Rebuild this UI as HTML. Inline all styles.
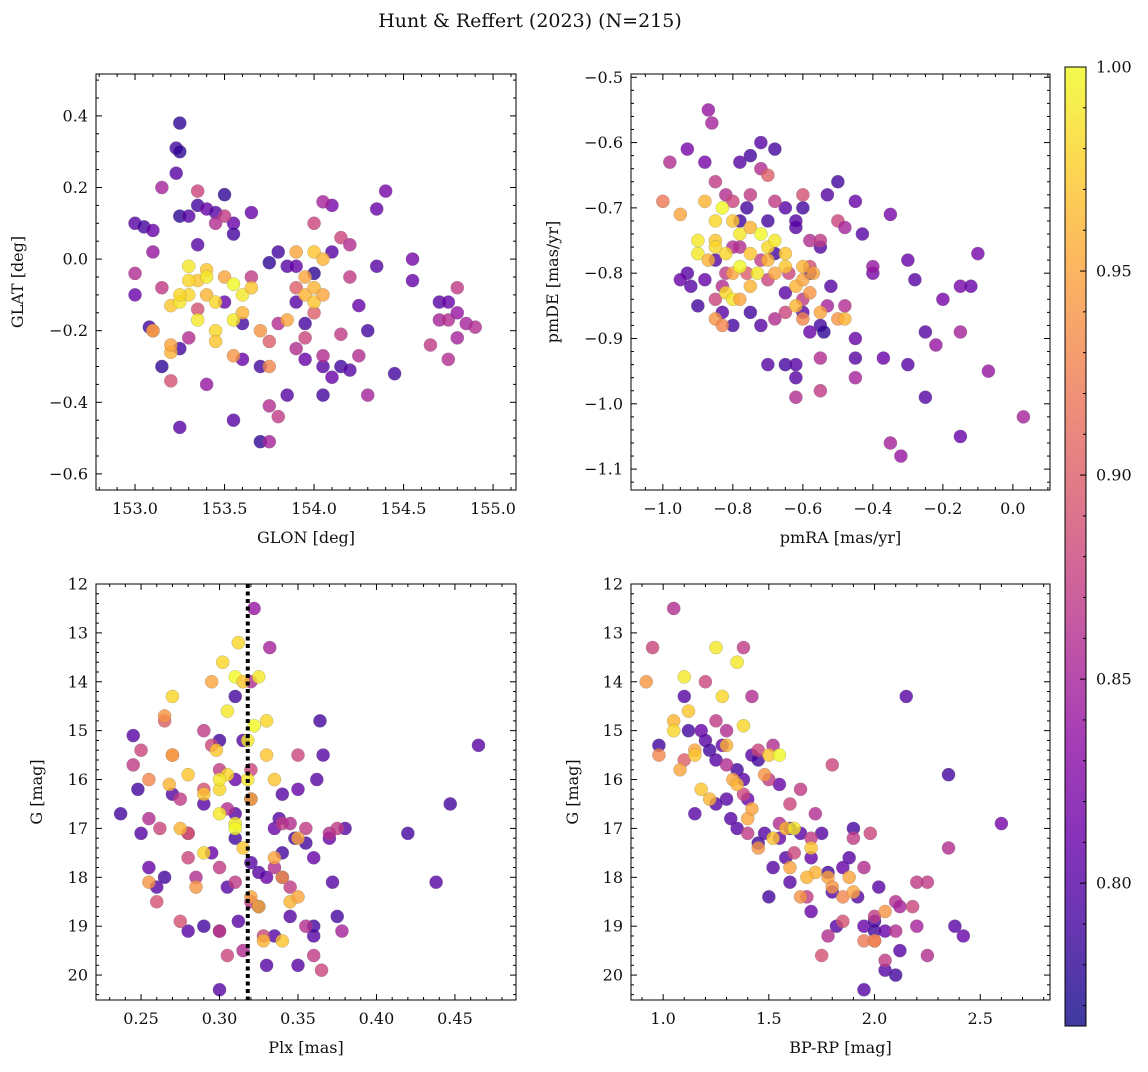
<!DOCTYPE html>
<html><head><meta charset="utf-8"><style>
html,body{margin:0;padding:0;background:#fff}
svg text{font-family:"DejaVu Serif","Liberation Serif",serif;fill:#111}
</style></head><body>
<svg id="fig" width="1148" height="1067" xmlns="http://www.w3.org/2000/svg">
<text x="530" y="27" font-size="19" text-anchor="middle">Hunt &amp; Reffert (2023) (N=215)</text>
</svg>
<script>
// Panel 1 data: GLON vs GLAT
const glon=[153.25,153.23,153.25,153.23,153.0,153.05,153.1,153.25,153.3,153.35,153.4,153.45,153.5,153.55,153.55,153.35,153.0,153.08,153.15,153.25,153.25,153.55,153.7,153.6,153.8,153.85,153.75,153.65,153.9,153.95,153.95,154.0,154.05,154.05,154.1,154.1,154.15,154.2,154.25,154.3,154.35,154.35,154.4,154.45,154.55,154.55,154.7,154.75,153.7,153.85,153.9,154.1,153.6,153.5,
153.15,153.1,153.0,153.15,153.1,153.2,153.4,153.35,153.45,153.5,153.75,153.8,153.75,153.75,153.9,154.0,154.05,154.15,154.2,154.2,154.25,154.15,154.3,154.05,154.65,154.7,154.75,154.8,154.8,154.75,154.85,154.9,154.8,153.95,153.8,153.65,153.9,153.3,153.35,154.0,
153.1,153.2,153.25,153.3,153.35,153.3,153.4,153.45,153.5,153.55,153.6,153.65,153.45,153.55,153.6,153.2,153.2,153.35,153.45,153.55,153.75,153.85,153.9,153.95,154.0,154.0,154.05,154.0,154.05,153.95,153.7,153.3,153.4,153.4,153.25];
const glat=[0.38,0.31,0.30,0.24,0.10,0.09,0.08,0.12,0.12,0.15,0.14,0.13,0.18,0.10,0.07,0.04,-0.10,-0.19,-0.30,-0.47,-0.25,-0.45,-0.51,-0.28,0.02,-0.02,-0.01,0.13,-0.12,-0.18,-0.28,-0.04,-0.30,-0.38,-0.33,0.15,-0.30,-0.31,-0.13,-0.20,-0.02,0.14,0.19,-0.32,-0.06,0.0,-0.12,-0.12,-0.30,-0.38,-0.02,0.02,-0.18,-0.12,
0.20,0.02,-0.04,-0.08,-0.20,-0.34,-0.35,0.19,0.10,0.12,-0.41,-0.44,-0.51,-0.23,-0.25,0.10,0.16,0.06,0.04,-0.05,-0.27,-0.21,-0.38,-0.27,-0.24,-0.17,-0.17,-0.15,-0.22,-0.28,-0.18,-0.19,-0.08,-0.22,-0.18,-0.05,-0.08,-0.22,-0.14,-0.15,
-0.20,-0.13,-0.12,-0.10,-0.06,-0.02,-0.10,-0.12,-0.05,-0.07,-0.10,-0.08,-0.20,-0.17,-0.15,-0.26,-0.24,-0.17,-0.23,-0.27,-0.30,-0.17,0.02,-0.10,-0.12,-0.08,-0.10,0.02,0.0,-0.05,-0.20,-0.06,-0.03,-0.05,-0.10];
const prob1=[0.78,0.79,0.78,0.8,0.8,0.79,0.81,0.78,0.8,0.79,0.81,0.8,0.78,0.81,0.79,0.8,0.81,0.79,0.78,0.8,0.79,0.8,0.78,0.81,0.79,0.8,0.78,0.81,0.8,0.79,0.81,0.78,0.8,0.79,0.81,0.82,0.79,0.8,0.81,0.79,0.8,0.81,0.82,0.79,0.81,0.82,0.8,0.81,0.79,0.8,0.81,0.8,0.79,0.81,
0.85,0.84,0.86,0.87,0.88,0.89,0.84,0.88,0.86,0.87,0.86,0.87,0.85,0.9,0.86,0.88,0.85,0.88,0.86,0.87,0.86,0.87,0.85,0.86,0.87,0.85,0.86,0.84,0.85,0.86,0.85,0.86,0.87,0.88,0.86,0.87,0.9,0.86,0.89,0.9,
0.95,0.97,0.99,0.98,0.97,0.99,0.96,0.98,0.95,1.0,0.99,0.97,0.98,0.99,0.96,0.96,0.95,0.99,0.97,0.94,0.93,0.95,0.95,0.96,0.97,0.96,0.95,0.97,0.96,0.95,0.94,0.98,0.97,0.99,0.98];
// Panel 2 data: pmRA vs pmDE
const pmra=[-0.87,-0.93,-0.88,-0.75,-0.72,-0.68,-0.78,-0.5,-0.53,-0.45,-0.35,-0.43,-0.6,-0.65,-0.7,-0.62,-0.93,-0.95,-0.9,-0.83,-0.8,-0.72,-0.75,-0.6,-0.55,-0.54,-0.52,-0.45,-0.45,-0.37,-0.4,-0.3,-0.28,-0.25,-0.25,-0.15,-0.12,-0.1,-0.15,-0.2,-0.7,-0.65,-0.62,-0.62,-0.58,-0.65,-0.58,-0.85,-0.88,-0.92,-0.78,-0.76,-0.55,-0.68,-0.3,-0.62,
-0.98,-0.86,-0.85,-0.82,-0.8,-0.75,-0.72,-0.7,-0.68,-0.6,-0.58,-0.5,-0.48,-0.35,-0.32,-0.07,0.03,-0.45,-0.55,-0.55,-0.62,-0.4,-0.15,-0.22,-0.48,-0.53,-0.55,-0.7,-0.78,-0.72,-0.65,-0.68,-0.82,-0.83,-0.85,-0.58,-0.6,-0.64,-0.8,-0.76,
-1.0,-0.95,-0.88,-0.85,-0.83,-0.8,-0.78,-0.75,-0.72,-0.7,-0.85,-0.9,-0.87,-0.82,-0.8,-0.78,-0.75,-0.73,-0.7,-0.68,-0.65,-0.62,-0.6,-0.58,-0.62,-0.6,-0.55,-0.5,-0.48,-0.82,-0.8,-0.78,-0.85,-0.83,-0.65,-0.68,-0.6,-0.57,-0.85,-0.9,-0.75];
const pmde=[-0.55,-0.61,-0.63,-0.62,-0.60,-0.61,-0.63,-0.66,-0.68,-0.69,-0.71,-0.74,-0.70,-0.70,-0.72,-0.73,-0.80,-0.81,-0.85,-0.86,-0.88,-0.88,-0.86,-0.86,-0.88,-0.89,-0.82,-0.90,-0.93,-0.93,-0.80,-0.78,-0.81,-0.89,-0.99,-0.82,-0.82,-0.77,-1.05,-0.84,-0.94,-0.94,-0.94,-0.96,-0.89,-0.83,-0.80,-0.78,-0.81,-0.82,-0.72,-0.70,-0.76,-0.77,-0.94,-0.72,
-0.63,-0.57,-0.66,-0.68,-0.69,-0.68,-0.64,-0.65,-0.69,-0.68,-0.75,-0.72,-0.73,-1.06,-1.08,-0.95,-1.02,-0.96,-0.93,-0.98,-0.99,-0.79,-0.89,-0.91,-0.85,-0.85,-0.75,-0.81,-0.76,-0.78,-0.86,-0.87,-0.80,-0.82,-0.84,-0.79,-0.84,-0.80,-0.76,-0.80,
-0.69,-0.71,-0.69,-0.72,-0.70,-0.72,-0.74,-0.73,-0.74,-0.76,-0.75,-0.77,-0.78,-0.77,-0.80,-0.79,-0.77,-0.80,-0.78,-0.80,-0.79,-0.82,-0.81,-0.83,-0.85,-0.87,-0.86,-0.87,-0.87,-0.83,-0.84,-0.84,-0.87,-0.88,-0.77,-0.75,-0.79,-0.80,-0.76,-0.75,-0.82];
const prob2=[0.84,0.82,0.82,0.79,0.8,0.79,0.8,0.79,0.8,0.81,0.82,0.8,0.79,0.8,0.79,0.8,0.8,0.81,0.79,0.8,0.79,0.8,0.79,0.8,0.79,0.78,0.8,0.81,0.8,0.81,0.82,0.81,0.8,0.8,0.8,0.82,0.81,0.82,0.81,0.82,0.8,0.79,0.8,0.8,0.81,0.8,0.79,0.8,0.81,0.8,0.79,0.79,0.8,0.79,0.8,0.8,
0.86,0.85,0.87,0.86,0.88,0.87,0.86,0.9,0.87,0.89,0.86,0.88,0.85,0.85,0.84,0.84,0.85,0.85,0.86,0.87,0.86,0.84,0.85,0.84,0.86,0.85,0.87,0.88,0.86,0.87,0.88,0.86,0.87,0.86,0.88,0.89,0.87,0.88,0.86,0.9,
0.92,0.95,0.96,0.98,1.0,0.97,0.99,0.96,1.0,0.98,0.97,0.99,0.96,0.98,0.95,1.0,0.97,0.99,0.96,0.95,0.97,0.96,0.95,0.94,0.96,0.93,0.95,0.94,0.96,0.98,0.99,0.95,0.94,0.93,0.97,0.99,0.96,0.95,0.98,0.99,0.96];
// Panel 3 data: Plx vs G
const plx=[0.237,0.245,0.248,0.25,0.255,0.26,0.265,0.27,0.28,0.28,0.29,0.3,0.3,0.305,0.31,0.31,0.31,0.315,0.32,0.32,0.325,0.33,0.335,0.34,0.34,0.345,0.35,0.35,0.355,0.36,0.36,0.362,0.364,0.366,0.37,0.372,0.375,0.38,0.42,0.438,0.447,0.465,0.312,0.33,0.338,0.3,0.29,0.295,0.335,0.36,0.34,0.31,0.325,0.348,
0.245,0.25,0.255,0.26,0.262,0.265,0.27,0.275,0.28,0.285,0.29,0.29,0.295,0.3,0.305,0.305,0.31,0.315,0.32,0.322,0.332,0.335,0.34,0.345,0.35,0.36,0.365,0.37,0.375,0.378,0.355,0.32,0.32,0.3,0.28,0.275,0.328,0.3,0.355,0.345,
0.255,0.255,0.265,0.268,0.27,0.275,0.28,0.285,0.29,0.295,0.298,0.3,0.302,0.305,0.31,0.312,0.315,0.318,0.32,0.322,0.325,0.33,0.33,0.335,0.34,0.345,0.35,0.34,0.328,0.3,0.31,0.315,0.318,0.32,0.325,0.31,0.305,0.3,0.29,0.27,0.35,0.335];
const gmag3=[16.7,15.1,16.2,17.1,17.8,18.2,18.0,16.3,17.1,19.1,19.0,20.3,19.1,18.2,17.2,16.7,14.3,15.2,16.4,17.7,18.6,19.8,17.0,16.3,17.5,18.8,16.2,19.8,17.3,19.2,17.6,16.0,14.8,15.5,17.2,18.1,18.8,17.0,17.1,18.1,16.5,15.3,18.9,18.0,16.8,15.2,16.5,17.5,19.2,19.0,18.0,16.0,17.9,17.2,
15.7,15.4,16.8,18.5,17.0,14.8,15.5,16.4,17.6,18.0,15.0,16.2,15.3,17.8,16.6,19.6,18.1,19.5,18.5,12.5,13.3,17.8,16.9,16.9,15.5,19.6,19.9,17.1,17.0,19.1,17.0,14.0,15.8,15.8,17.1,18.9,19.2,19.1,19.0,18.2,
16.0,18.1,14.7,16.1,15.5,17.0,15.9,18.2,17.5,14.0,15.4,16.7,13.6,14.6,13.9,13.2,14.0,15.2,16.4,14.9,13.9,14.8,15.5,17.6,18.0,18.5,18.4,19.3,19.3,16.2,16.9,17.4,16.0,18.4,18.6,17.0,15.9,16.0,16.3,14.3,17.2,16.0];
const prob3=[0.79,0.8,0.79,0.8,0.81,0.8,0.79,0.8,0.81,0.8,0.79,0.8,0.81,0.8,0.79,0.8,0.79,0.8,0.81,0.8,0.79,0.8,0.81,0.8,0.79,0.8,0.81,0.8,0.79,0.8,0.81,0.8,0.79,0.8,0.81,0.8,0.79,0.8,0.79,0.8,0.79,0.8,0.8,0.81,0.8,0.79,0.8,0.81,0.8,0.79,0.8,0.81,0.8,0.79,
0.87,0.88,0.86,0.89,0.88,0.9,0.9,0.87,0.88,0.86,0.87,0.89,0.88,0.87,0.86,0.88,0.87,0.86,0.87,0.84,0.85,0.86,0.87,0.86,0.88,0.87,0.88,0.86,0.87,0.85,0.87,0.86,0.88,0.87,0.9,0.89,0.88,0.87,0.86,0.87,
0.93,0.94,0.94,0.96,0.95,0.96,0.97,0.94,0.98,0.95,0.97,0.99,0.98,0.99,1.0,0.98,0.97,0.99,0.96,1.0,0.99,0.98,0.97,0.95,0.94,0.96,0.95,0.97,0.96,0.98,0.99,0.97,0.99,0.95,0.96,1.0,0.98,0.99,0.97,0.98,0.95,0.97];
// Panel 4 data: BP-RP vs G
const bprp=[0.98,1.1,1.12,1.15,1.18,1.2,1.22,1.25,1.28,1.3,1.35,1.38,1.4,1.42,1.45,1.48,1.5,1.52,1.55,1.58,1.6,1.65,1.7,1.75,1.78,1.8,1.85,1.88,1.9,1.92,1.95,1.95,2.0,2.02,2.05,2.05,2.1,2.12,2.15,2.35,2.38,2.42,2.6,1.35,1.45,1.6,1.7,1.82,2.0,1.25,1.55,1.32,
0.95,1.05,1.1,1.2,1.25,1.3,1.38,1.42,1.45,1.5,1.52,1.6,1.65,1.72,1.8,1.85,1.9,1.95,1.98,2.05,2.1,2.12,2.18,2.2,2.25,2.2,2.35,2.25,1.78,1.75,2.0,2.1,1.62,1.68,1.55,1.38,1.4,1.3,2.0,1.7,
0.92,0.98,1.05,1.08,1.1,1.12,1.15,1.18,1.22,1.25,1.28,1.3,1.33,1.35,1.38,1.4,1.45,1.5,1.55,1.58,1.6,1.65,1.7,1.72,1.78,1.8,1.85,1.9,1.95,2.05,1.52,1.62,1.05,1.15,1.35,1.42,1.48,1.68,1.88,2.0];
const gmag4=[15.3,14.3,15.0,16.7,15.0,15.2,15.4,15.6,15.3,16.4,15.8,16.0,16.4,15.5,15.6,17.1,18.4,17.8,17.2,17.6,17.0,17.1,17.6,17.1,17.9,18.3,17.8,17.6,17.0,18.4,19.0,20.3,19.1,18.2,19.1,19.9,20.0,19.5,14.3,15.9,19.0,19.2,16.9,17.0,17.3,18.1,18.7,19.0,18.9,16.5,16.1,16.8,
13.3,12.5,15.6,14.0,14.8,15.0,13.3,14.3,15.4,16.0,15.3,16.5,16.2,16.7,15.7,18.9,17.2,17.8,17.1,19.7,18.5,18.6,18.6,18.1,19.6,19.0,17.4,18.1,19.2,19.6,18.8,19.1,17.5,18.4,16.9,16.3,17.1,15.7,19.3,17.2,
14.0,15.5,14.8,15.8,13.9,14.6,15.4,16.2,16.4,13.3,14.3,15.3,16.0,13.6,14.9,16.8,17.4,15.5,15.5,17.0,17.8,18.4,17.4,17.9,18.0,18.2,18.4,18.3,19.3,18.7,17.2,17.0,15.0,15.5,16.1,16.6,15.9,18.0,18.0,19.3];
const prob4=[0.79,0.8,0.79,0.8,0.81,0.8,0.79,0.8,0.81,0.8,0.79,0.8,0.81,0.8,0.79,0.8,0.79,0.8,0.81,0.8,0.79,0.8,0.81,0.8,0.79,0.8,0.81,0.8,0.79,0.8,0.81,0.8,0.79,0.8,0.81,0.8,0.79,0.8,0.8,0.79,0.8,0.81,0.82,0.8,0.79,0.8,0.81,0.8,0.79,0.8,0.81,0.8,
0.88,0.86,0.9,0.88,0.87,0.86,0.87,0.86,0.88,0.87,0.86,0.88,0.87,0.86,0.88,0.89,0.87,0.86,0.88,0.87,0.86,0.85,0.88,0.87,0.86,0.85,0.86,0.87,0.86,0.89,0.87,0.86,0.88,0.87,0.86,0.88,0.87,0.86,0.9,0.87,
0.94,0.93,0.96,0.95,0.99,0.97,0.95,0.97,0.96,0.99,0.98,0.96,0.95,0.99,0.98,0.95,0.94,0.97,1.0,0.96,0.95,0.94,0.97,0.96,0.95,0.94,0.93,0.95,0.92,0.94,0.97,0.99,0.98,0.97,0.96,0.95,0.94,0.96,0.95,0.93];
const plxLine=0.318;
const cbTicks=[0.80,0.85,0.90,0.95,1.00];

const NS="http://www.w3.org/2000/svg";
const svg=document.getElementById('fig');
const VMIN=0.765,VMAX=1.0;
const stops=[[13,8,135],[65,4,157],[106,0,168],[143,13,164],[177,42,144],[204,71,120],[225,100,98],[242,132,75],[252,166,54],[252,206,37],[240,249,33]];
function plasma(t){t=Math.max(0,Math.min(1,t));const f=t*10,i=Math.min(9,Math.floor(f)),r=f-i;const a=stops[i],b=stops[i+1];return `rgb(${a.map((v,k)=>Math.round(v+(b[k]-v)*r)).join(',')})`;}
function cmap(v){return plasma((v-VMIN)/(VMAX-VMIN));}
function el(tag,attrs,parent){const e=document.createElementNS(NS,tag);for(const k in attrs)e.setAttribute(k,attrs[k]);(parent||svg).appendChild(e);return e;}
function fmt(v,d){let s=v.toFixed(d);return s.replace('-','\u2212');}

function panel(o){
  const g=el('g',{});
  
  
  const sx=v=>o.L+(v-o.x0)/(o.x1-o.x0)*(o.R-o.L);
  const sy=o.yInv?(v=>o.T+(v-o.y0)/(o.y1-o.y0)*(o.B-o.T)):(v=>o.B-(v-o.y0)/(o.y1-o.y0)*(o.B-o.T));
  const pts=el('g',{},g);
  
  
  for(let i=0;i<o.xs.length;i++){
    const c=el('circle',{cx:sx(o.xs[i]),cy:sy(o.ys[i]),r:6.6,fill:cmap(o.cs[i]),'fill-opacity':0.8,stroke:'#777','stroke-width':0.4,'stroke-opacity':0.6},pts);
    
    
  }
  if(o.vline!==undefined){
    const l=el('line',{x1:sx(o.vline),x2:sx(o.vline),y1:o.T,y2:o.B,stroke:'#000','stroke-width':4,'stroke-dasharray':'4 3.5'},g);
    
    
  }
  const fr=el('rect',{x:o.L,y:o.T,width:o.R-o.L,height:o.B-o.T,fill:'none',stroke:'#000','stroke-width':1},g);
  
  
  const eps=1e-9;
  for(let v=Math.ceil(o.x0/o.xmin-eps)*o.xmin;v<=o.x1+eps;v+=o.xmin){
    const major=Math.abs(v/o.xmaj-Math.round(v/o.xmaj))<1e-6;const len=major?6:3;const x=sx(v);
    el('line',{x1:x,x2:x,y1:o.B,y2:o.B-len,stroke:'#000','stroke-width':1},g);
    el('line',{x1:x,x2:x,y1:o.T,y2:o.T+len,stroke:'#000','stroke-width':1},g);
    if(major){const t=el('text',{x:x,y:o.B+24,'font-size':16,'text-anchor':'middle'},g);t.textContent=fmt(v,o.xd);
      }
  }
  for(let v=Math.ceil(o.y0/o.ymin-eps)*o.ymin;v<=o.y1+eps;v+=o.ymin){
    const major=Math.abs(v/o.ymaj-Math.round(v/o.ymaj))<1e-6;const len=major?6:3;const y=sy(v);
    el('line',{x1:o.L,x2:o.L+len,y1:y,y2:y,stroke:'#000','stroke-width':1},g);
    el('line',{x1:o.R,x2:o.R-len,y1:y,y2:y,stroke:'#000','stroke-width':1},g);
    if(major){const t=el('text',{x:o.L-8,y:y+5.5,'font-size':16,'text-anchor':'end'},g);t.textContent=fmt(Math.abs(v)<1e-9?0:v,o.yd);
      }
  }
  const xl=el('text',{x:(o.L+o.R)/2,y:o.B+53,'font-size':16,'text-anchor':'middle'},g);xl.textContent=o.xlabel;
  
  const yl=el('text',{x:0,y:0,'font-size':16,'text-anchor':'middle',transform:`translate(${o.ylx},${(o.T+o.B)/2}) rotate(-90)`},g);yl.textContent=o.ylabel;
  
}
panel({name:'glon-glat-panel',L:96,R:516,T:74,B:490,x0:152.782,x1:155.128,y0:-0.645,y1:0.517,xs:glon,ys:glat,cs:prob1,xmaj:0.5,xmin:0.1,ymaj:0.2,ymin:0.05,xd:1,yd:1,xlabel:'GLON [deg]',ylabel:'GLAT [deg]',ylx:23});
panel({name:'proper-motion-panel',L:631,R:1050,T:74,B:490,x0:-1.091,x1:0.106,y0:-1.132,y1:-0.495,xs:pmra,ys:pmde,cs:prob2,xmaj:0.2,xmin:0.05,ymaj:0.1,ymin:0.02,xd:1,yd:1,xlabel:'pmRA [mas/yr]',ylabel:'pmDE [mas/yr]',ylx:558});
panel({name:'parallax-magnitude-panel',L:96,R:516,T:584,B:1000,x0:0.2213,x1:0.4889,y0:12,y1:20.51,yInv:true,xs:plx,ys:gmag3,cs:prob3,vline:plxLine,xmaj:0.05,xmin:0.01,ymaj:1,ymin:0.2,xd:2,yd:0,xlabel:'Plx [mas]',ylabel:'G [mag]',ylx:42});
panel({name:'color-magnitude-panel',L:631,R:1050,T:584,B:1000,x0:0.848,x1:2.83,y0:12,y1:20.51,yInv:true,xs:bprp,ys:gmag4,cs:prob4,xmaj:0.5,xmin:0.1,ymaj:1,ymin:0.2,xd:1,yd:0,xlabel:'BP-RP [mag]',ylabel:'G [mag]',ylx:578});

const cbL=1065,cbR=1086,cbT=67,cbB=1026;
const defs=el('defs',{});
const lg=el('linearGradient',{id:'cbg',x1:0,y1:1,x2:0,y2:0},defs);
for(let i=0;i<=20;i++){el('stop',{offset:i/20,'stop-color':plasma(i/20)},lg);}
const cb=el('g',{});


el('rect',{x:cbL,y:cbT,width:cbR-cbL,height:cbB-cbT,fill:'url(#cbg)','fill-opacity':0.8},cb);
el('rect',{x:cbL,y:cbT,width:cbR-cbL,height:cbB-cbT,fill:'none',stroke:'#000','stroke-width':1},cb);
const cy=v=>cbB-(v-VMIN)/(VMAX-VMIN)*(cbB-cbT);
for(let v=0.77;v<=1.0001;v+=0.01){const y=cy(v);const major=Math.abs(v*20-Math.round(v*20))<1e-6;const len=major?6:3;
  el('line',{x1:cbR,x2:cbR-len,y1:y,y2:y,stroke:'#000','stroke-width':1},cb);}
cbTicks.forEach(v=>{const t=el('text',{x:cbR+10,y:cy(v)+5.5,'font-size':16},cb);t.textContent=v.toFixed(2);
  });
</script>
</body></html>
